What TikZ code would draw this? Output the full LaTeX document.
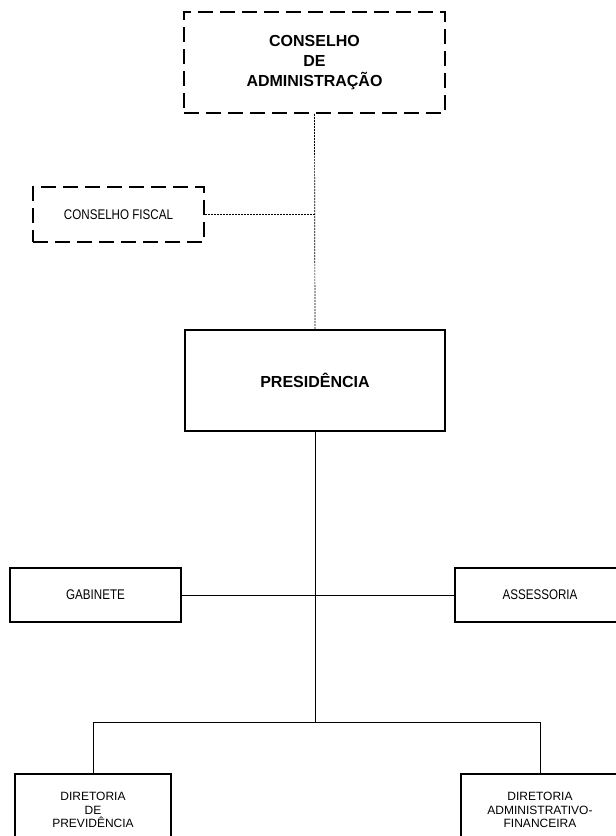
\documentclass[tikz,border=0pt]{standalone}
\usepackage{fontspec}
\setmainfont{Liberation Sans}
\newfontfamily\narrowfont[FakeStretch=0.83]{Liberation Sans}
\begin{document}
\begin{tikzpicture}[x=1pt, y=-1pt,
    solidbox/.style={draw, line width=1.6pt, inner sep=0pt, align=center},
    dashbox/.style={draw, line width=1.6pt, dash pattern=on 15pt off 7pt, inner sep=0pt, align=center},
    dotline/.style={line width=0.7pt, dash pattern=on 2pt off 1pt},
    link/.style={line width=0.8pt}]
    % Page
    \useasboundingbox (0,0) rectangle (616,836);
    \clip (0,0) rectangle (616,836);

    % Boxes
    \node[dashbox, minimum width=261pt, minimum height=101pt,
          font=\fontsize{16}{20}\selectfont\bfseries] (ca) at (314.5,62.5)
          {CONSELHO\\DE\\ADMINISTRAÇÃO};
    \node[dashbox, minimum width=171pt, minimum height=55pt,
          font=\fontsize{14}{16}\narrowfont] (cf) at (118.5,214.5) {CONSELHO FISCAL};
    \node[solidbox, minimum width=260pt, minimum height=101pt,
          font=\fontsize{16}{20}\selectfont\bfseries] (pres) at (315,380.5) {PRESIDÊNCIA};
    \node[solidbox, minimum width=171pt, minimum height=54pt,
          font=\fontsize{14}{16}\narrowfont] (gab) at (95.5,595) {GABINETE};
    \node[solidbox, minimum width=170pt, minimum height=54pt,
          font=\fontsize{14}{16}\narrowfont] (ass) at (540,595) {ASSESSORIA};
    \node[solidbox, minimum width=156pt, minimum height=72pt,
          font=\fontsize{12}{13.7}\selectfont] (dp) at (93,810) {DIRETORIA\\DE\\PREVIDÊNCIA};
    \node[solidbox, minimum width=158pt, minimum height=72pt,
          font=\fontsize{12}{13.7}\selectfont] (da) at (540,810) {DIRETORIA\\ADMINISTRATIVO-\\FINANCEIRA};

    % Dotted links
    \draw[dotline] (ca.south) -- (pres.north);
    \draw[dotline] (cf.east) -- (cf.east -| ca.south);

    % Solid links
    \coordinate (bar) at (315,722);
    \draw[link] (pres.south) -- (bar);
    \draw[link] (gab.east) -- (ass.west);
    \draw[link] (dp.north) -- (dp.north |- bar) -- (da.north |- bar) -- (da.north);
\end{tikzpicture}
\end{document}
